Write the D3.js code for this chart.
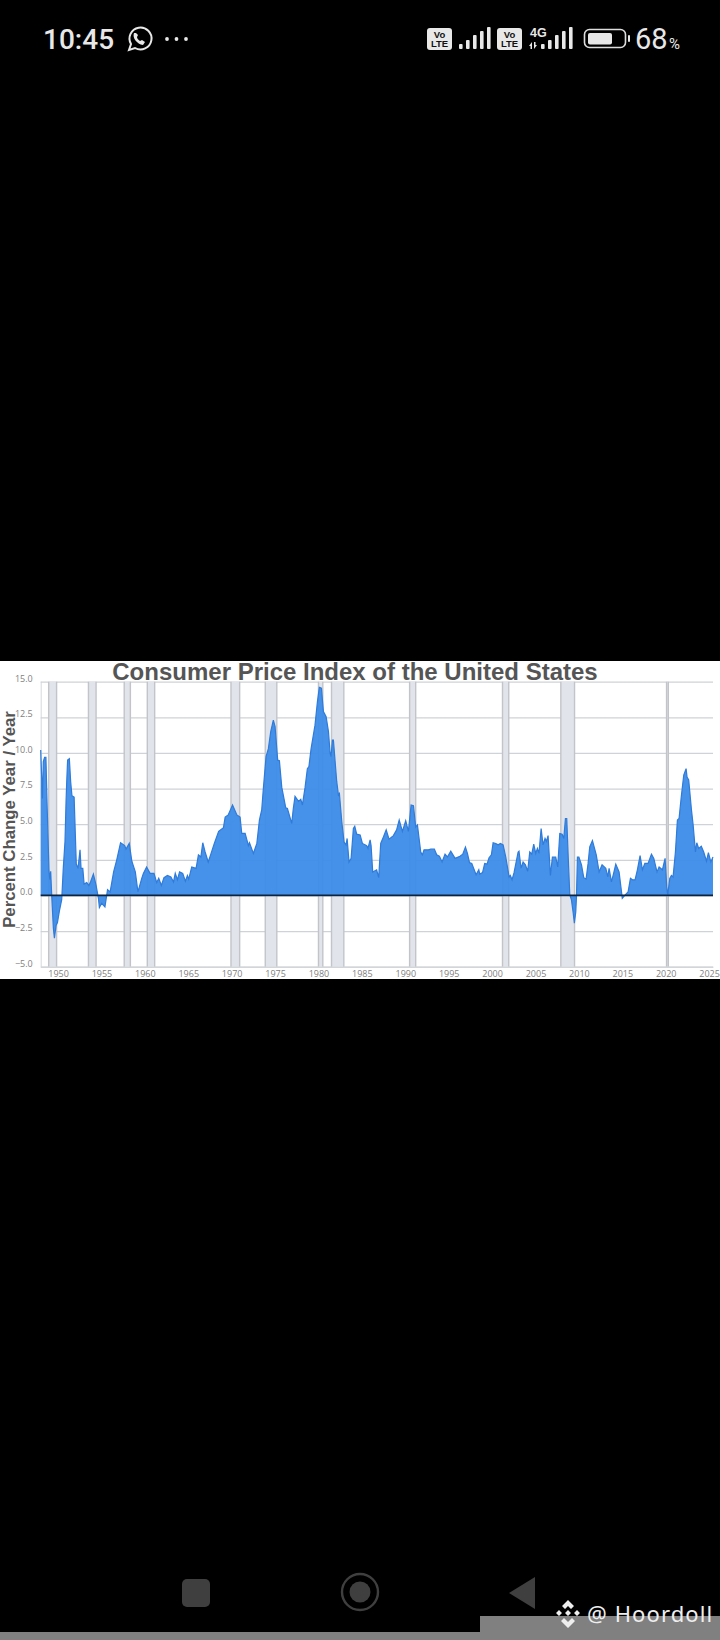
<!DOCTYPE html>
<html>
<head>
<meta charset="utf-8">
<script src="https://cdn.jsdelivr.net/npm/d3@7"></script>
<style>
  html, body { margin: 0; padding: 0; background: #000; }
  svg { display: block; }
</style>
</head>
<body>
<svg id="screen" width="720" height="1640"></svg>
<script>
// values, [decimal year, percent change]
const cpiYears = [
  1948.0,1948.2,1948.3,1948.45,1948.6,1948.75,1948.95,1949.05,1949.15,1949.27,1949.46,1949.58,1949.77,1949.93,1950.15,1950.42,1950.6,1950.8,1950.92,1951.0,
  1951.1,1951.3,1951.45,1951.6,1951.85,1952.1,1952.3,1952.53,1952.65,1952.85,1953.0,1953.3,1953.55,1953.77,1954.07,1954.38,1954.65,1954.76,1955.03,1955.4,
  1955.7,1956.0,1956.4,1956.76,1957.2,1957.68,1957.83,1958.2,1958.5,1958.9,1959.2,1959.64,1959.83,1960.2,1960.6,1961.05,1961.37,1961.6,1961.9,1962.2,
  1962.6,1963.0,1963.3,1963.5,1963.75,1964.0,1964.36,1964.67,1964.9,1965.05,1965.4,1965.9,1966.17,1966.45,1966.67,1966.94,1967.3,1967.6,1968.0,1968.5,
  1969.05,1969.25,1969.6,1970.1,1970.6,1970.97,1971.16,1971.55,1971.93,1972.05,1972.5,1972.9,1973.2,1973.46,1973.65,1973.96,1974.23,1974.5,1974.8,1975.0,
  1975.3,1975.5,1975.77,1976.23,1976.42,1976.92,1977.1,1977.3,1977.7,1977.96,1978.15,1978.46,1978.72,1978.9,1979.15,1979.6,1979.88,1980.1,1980.34,1980.57,
  1980.88,1981.15,1981.34,1981.45,1981.6,1981.72,1982.1,1982.3,1982.41,1982.68,1982.95,1983.18,1983.3,1983.52,1983.76,1984.02,1984.18,1984.4,1984.8,1985.06,
  1985.56,1985.7,1985.95,1986.06,1986.25,1986.7,1986.94,1987.17,1987.48,1987.8,1988.13,1988.63,1989.0,1989.3,1989.67,1990.05,1990.36,1990.67,1990.94,1991.2,
  1991.4,1991.78,1991.97,1992.16,1992.66,1992.93,1993.35,1993.62,1993.93,1994.24,1994.58,1994.85,1995.24,1995.74,1996.3,1996.62,1996.93,1997.16,1997.4,1997.66,
  1998.16,1998.47,1998.58,1998.9,1999.15,1999.42,1999.65,1999.92,2000.12,2000.42,2000.7,2000.96,2001.27,2001.57,2001.96,2002.1,2002.3,2002.53,2003.0,2003.1,
  2003.34,2003.57,2003.84,2004.1,2004.34,2004.57,2004.8,2005.03,2005.22,2005.4,2005.65,2005.87,2006.1,2006.26,2006.45,2006.72,2006.95,2007.33,2007.56,2007.8,
  2008.07,2008.26,2008.45,2008.6,2008.76,2008.95,2009.14,2009.33,2009.48,2009.64,2009.72,2009.83,2010.0,2010.3,2010.56,2010.83,2011.06,2011.25,2011.56,2012.0,
  2012.33,2012.67,2013.1,2013.33,2013.48,2013.75,2014.0,2014.25,2014.63,2014.86,2015.0,2015.28,2015.67,2015.94,2016.17,2016.47,2016.74,2017.05,2017.32,2017.6,
  2017.97,2018.36,2018.63,2019.0,2019.24,2019.62,2019.93,2020.12,2020.24,2020.47,2020.66,2020.85,2021.12,2021.35,2021.54,2021.8,2022.08,2022.35,2022.46,2022.65,
  2022.97,2023.16,2023.43,2023.58,2023.8,2024.1,2024.38,2024.7,2024.92,2025.2,2025.45
];
const cpiValues = [
  10.2,6.8,9.4,9.7,9.7,6.1,1.8,1.1,1.7,0.0,-2.3,-3.0,-2.1,-1.9,-1.1,-0.3,1.9,3.8,6.6,8.0,
  9.5,9.6,8.0,7.0,6.9,2.2,1.9,3.2,1.9,1.9,0.8,0.9,0.7,1.0,1.5,0.7,-0.2,-0.85,-0.55,-0.8,
  0.4,0.25,1.65,2.5,3.7,3.5,3.25,3.65,2.4,1.65,0.25,1.2,1.55,2.0,1.55,1.55,0.9,1.2,0.7,1.25,
  1.4,1.3,0.95,1.55,1.1,1.65,1.55,1.0,1.4,1.15,2.0,1.9,2.85,2.7,3.7,3.05,2.35,2.9,3.65,4.5,
  4.75,5.5,5.65,6.35,5.65,5.5,4.35,4.35,3.5,3.7,2.95,3.65,5.3,6.0,7.5,9.75,10.3,11.5,12.3,11.85,
  9.5,9.45,7.6,6.15,6.1,5.05,6.1,6.95,6.6,6.75,6.35,7.6,8.9,9.05,10.3,11.95,13.6,14.6,14.55,12.9,
  12.55,11.5,10.0,9.75,10.9,10.9,8.0,7.05,7.15,5.2,3.75,3.55,4.0,2.35,2.6,4.7,4.85,4.3,4.25,3.65,
  3.5,3.3,3.9,3.5,1.65,1.8,1.25,3.65,4.1,4.6,3.95,4.2,4.6,5.3,4.5,5.25,4.5,6.35,6.3,4.8,
  4.95,3.05,2.85,3.2,3.2,3.25,3.25,2.85,2.75,2.35,2.9,2.7,3.1,2.6,2.75,2.9,3.4,2.95,2.3,2.25,
  1.45,1.8,1.5,1.6,2.25,2.2,2.65,2.85,3.7,3.65,3.55,3.65,3.55,2.7,1.3,1.4,1.1,1.6,3.05,3.1,
  1.9,2.35,2.15,1.7,3.05,2.9,3.6,2.95,3.3,2.95,4.7,3.55,4.0,3.8,4.2,1.4,2.7,2.7,2.0,4.35,
  4.3,4.0,5.4,5.4,2.85,0.05,-0.3,-1.15,-1.95,-1.15,-0.1,2.7,2.7,2.15,1.25,1.15,2.25,3.4,3.85,2.85,
  1.65,2.15,1.9,1.3,1.9,0.95,1.55,2.2,1.65,0.5,-0.2,0.0,0.25,1.2,1.1,1.1,1.8,2.8,1.8,2.25,
  2.25,2.9,2.6,1.65,2.0,1.8,2.6,0.6,0.05,1.2,1.4,1.3,3.05,5.3,5.4,6.95,8.45,8.9,8.3,8.1,
  6.0,4.95,3.05,3.7,3.3,3.45,3.05,2.4,3.0,2.35,2.7
];
const recessionStart = [1948.92,1953.5,1957.62,1960.28,1969.92,1973.87,1980.0,1981.5,1990.5,2001.2,2007.92,2020.1];
const recessionEnd   = [1949.83,1954.38,1958.33,1961.13,1970.92,1975.2,1980.5,1982.92,1991.2,2001.92,2009.5,2020.3];
const yTicks = [-5,-2.5,0,2.5,5,7.5,10,12.5,15];
const xTicks = [1950,1955,1960,1965,1970,1975,1980,1985,1990,1995,2000,2005,2010,2015,2020,2025];

const titleText = "Consumer Price Index of the United States";
const yTitleText = "Percent Change Year / Year";

const svg = d3.select("#screen");
const sans = "'Liberation Sans', Arial, sans-serif";

// white panel holding the screenshot of the chart
svg.append("rect").attr("x", 0).attr("y", 661).attr("width", 720).attr("height", 318).attr("fill", "#fff");

const plotLeft = 40.7, plotRight = 713, plotTop = 681.7, plotBottom = 966.7;
const x = d3.scaleLinear().domain([1948, 2025.45]).range([plotLeft, plotRight]);
const y = d3.scaleLinear().domain([-5, 15]).range([plotBottom, plotTop]);

// gridlines + y labels
const yAxis = d3.axisLeft(y).tickValues(yTicks).tickSize(plotLeft - plotRight).tickPadding(8)
  .tickFormat(d3.format(".1f"));
const yG = svg.append("g").attr("transform", "translate(" + plotLeft + ",0)").call(yAxis);
yG.select(".domain").attr("stroke", "#d5d8de").attr("d", "M0.5," + plotTop + "V" + plotBottom);
yG.selectAll("line").attr("stroke", "#cfd2d6").attr("stroke-width", 1.2);
// labels sit a little above their gridlines in the reference
yG.selectAll("text").attr("x", -8).attr("y", -3.5).attr("fill", "#808080").style("font", "9px 'Open Sans', sans-serif");

// recession bands
const bands = svg.append("g");
recessionStart.forEach(function(s, i) {
  bands.append("rect")
    .attr("x", x(s)).attr("y", plotTop)
    .attr("width", x(recessionEnd[i]) - x(s)).attr("height", plotBottom - plotTop)
    .attr("fill", "#e1e4ea");
  [s, recessionEnd[i]].forEach(function(e) {
    bands.append("line")
      .attr("x1", x(e)).attr("x2", x(e)).attr("y1", plotTop).attr("y2", plotBottom)
      .attr("stroke", "#c2c4c9").attr("stroke-width", 1.4);
  });
});

// the series
const series = cpiYears.map((d, i) => [d, cpiValues[i]]);
const area = d3.area().x(d => x(d[0])).y0(y(0)).y1(d => y(d[1]));
const line = d3.line().x(d => x(d[0])).y(d => y(d[1]));
svg.append("path").datum(series).attr("d", area).attr("fill", "#3c8be8").attr("fill-opacity", 0.95);
svg.append("path").datum(series).attr("d", line).attr("fill", "none").attr("stroke", "#2f7bd9").attr("stroke-width", 1.2);

// zero line
svg.append("line").attr("x1", plotLeft).attr("x2", plotRight).attr("y1", y(0)).attr("y2", y(0))
  .attr("stroke", "#0c2440").attr("stroke-width", 1.8);

// x axis
const xAxis = d3.axisBottom(x).tickValues(xTicks).tickSize(0).tickPadding(4).tickFormat(d3.format("d"));
const xG = svg.append("g").attr("transform", "translate(0," + plotBottom + ")").call(xAxis);
xG.select(".domain").attr("stroke", "#cfd2d6");
xG.selectAll("text").attr("fill", "#808080").style("font", "9px 'Open Sans', sans-serif");

// titles
svg.append("text").attr("x", 355).attr("y", 680).attr("text-anchor", "middle")
  .attr("fill", "#555").style("font", "bold 24px " + sans).text(titleText);
svg.append("text").attr("transform", "translate(14.5,819.5) rotate(-90)").attr("text-anchor", "middle")
  .attr("fill", "#555").style("font", "bold 16.8px " + sans).text(yTitleText);

// phone status bar
const bar = svg.append("g").attr("fill", "#e8e8e8");
bar.append("text").attr("x", 43).attr("y", 49).style("font", "500 28px Roboto, sans-serif").text("10:45");
bar.append("path").attr("d", "M129,50 L131,44 A11,11 0 1 1 135,48 Z")
  .attr("fill", "none").attr("stroke", "#e8e8e8").attr("stroke-width", 2);
bar.append("path").attr("d", "M134,33 C132,38 137,44 143,45 L145,42 L142,40 L140,41 C138,40 137,38 137,37 L138,35 L136,33 Z");
[167, 176.5, 186].forEach(cx => bar.append("circle").attr("cx", cx).attr("cy", 39).attr("r", 1.9));

function volte(gx) {
  bar.append("rect").attr("x", gx).attr("y", 28).attr("width", 25).attr("height", 22).attr("rx", 3);
  bar.append("text").attr("x", gx + 12.5).attr("y", 38).attr("text-anchor", "middle").attr("fill", "#111")
    .style("font", "bold 9.5px " + sans).text("Vo");
  bar.append("text").attr("x", gx + 12.5).attr("y", 47).attr("text-anchor", "middle").attr("fill", "#111")
    .style("font", "bold 9.5px " + sans).text("LTE");
}
function signal(gx) {
  [5, 9, 14, 18, 22].forEach(function(h, i) {
    bar.append("rect").attr("x", gx + i * 7).attr("y", 49 - h).attr("width", 3.6).attr("height", h).attr("rx", 1);
  });
}
volte(427);
signal(459);
volte(497);
signal(541);
bar.append("text").attr("x", 530).attr("y", 37).style("font", "bold 12.5px " + sans).text("4G");
bar.append("path").attr("d", "M529,46 l3,-4 v7 h-1.5 v-3 Z M534,42 h1.5 v3 h1.5 l-3,4 Z");

bar.append("rect").attr("x", 584.5).attr("y", 29.5).attr("width", 41).attr("height", 18).attr("rx", 5)
  .attr("fill", "none").attr("stroke", "#ddd").attr("stroke-width", 1.6);
bar.append("rect").attr("x", 588).attr("y", 33).attr("width", 24).attr("height", 11.5).attr("rx", 2);
bar.append("rect").attr("x", 628).attr("y", 35).attr("width", 2).attr("height", 7).attr("rx", 1);
bar.append("text").attr("x", 635).attr("y", 49).style("font", "29px Roboto, sans-serif").text("68");
bar.append("text").attr("x", 669).attr("y", 49).style("font", "15px Roboto, sans-serif").text("%");

// navigation bar
const nav = svg.append("g").attr("fill", "#3f3f3f");
nav.append("rect").attr("x", 182).attr("y", 1579).attr("width", 28).attr("height", 28).attr("rx", 5);
nav.append("circle").attr("cx", 360).attr("cy", 1592).attr("r", 18).attr("fill", "none").attr("stroke", "#3f3f3f").attr("stroke-width", 2.4);
nav.append("circle").attr("cx", 360).attr("cy", 1592).attr("r", 10.5);
nav.append("path").attr("d", "M509,1593 L535,1577 V1609 Z");

// grey strips along the bottom + watermark
svg.append("rect").attr("x", 0).attr("y", 1632).attr("width", 720).attr("height", 8).attr("fill", "#808080");
svg.append("rect").attr("x", 480).attr("y", 1616).attr("width", 240).attr("height", 24).attr("fill", "#808080");
const mark = svg.append("g").attr("fill", "#eee");
mark.append("path").attr("d", "M568,1600 l6,6 l-3,3 l-3,-3 l-3,3 l-3,-3 Z M568,1610 l3,3 l-3,3 l-3,-3 Z M559,1610 l3,3 l-3,3 l-3,-3 Z M577,1610 l3,3 l-3,3 l-3,-3 Z M568,1628 l-7,-7 l3,-3 l4,4 l4,-4 l3,3 Z");
mark.append("text").attr("x", 587).attr("y", 1622).style("font", "22px 'Noto Sans', sans-serif").attr("letter-spacing", 1.1)
  .text("@ Hoordoll");
</script>
</body>
</html>
